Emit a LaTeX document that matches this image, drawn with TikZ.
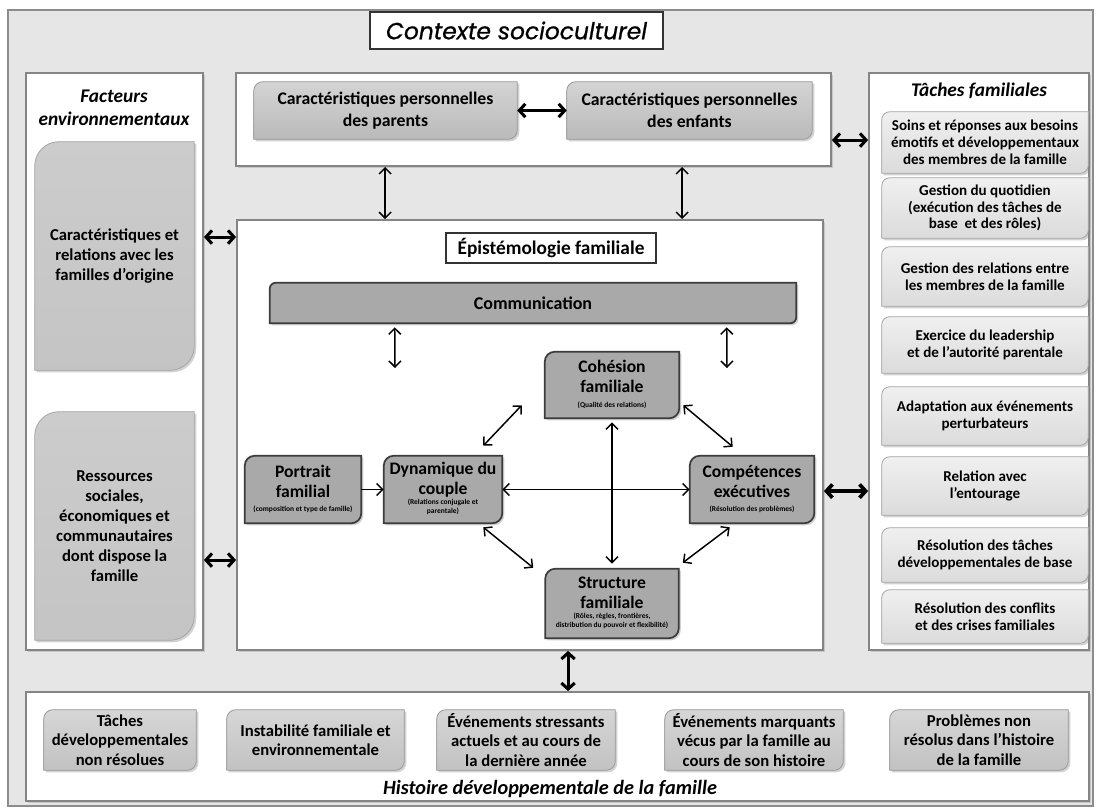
\documentclass[tikz,border=0pt]{standalone}
\usepackage{fontspec}
\setmainfont{Carlito}
\newfontfamily\titlefont[FakeBold=0.8]{Poppins}
\usetikzlibrary{arrows.meta,calc,shadows}
\pgfdeclarelayer{back}
\pgfdeclarelayer{mid}
\pgfsetlayers{back,mid,main}
\definecolor{bgc}{HTML}{E6E6E6}
\definecolor{bord}{HTML}{858585}
\definecolor{cgray}{HTML}{A9A9A9}
\definecolor{cdark}{HTML}{3C3C3C}
\newcommand\rdiag[3]{%
  \path[#1] ($(#2.north west)+(0,#3)$) .. controls ($(#2.north west)+(0,#3*0.45)$) and ($(#2.north west)+(#3*0.45,0)$) .. ($(#2.north west)+(#3,0)$) -- (#2.north east) -- ($(#2.south east)+(0,-#3)$) .. controls ($(#2.south east)+(0,-#3*0.45)$) and ($(#2.south east)+(-#3*0.45,0)$) .. ($(#2.south east)+(-#3,0)$) -- (#2.south west) -- cycle;}
\newcommand\smalltxt[1]{{\fontsize{5.6}{6.6}\selectfont\begin{tabular}{@{}c@{}}#1\end{tabular}}}
\begin{document}
\begin{tikzpicture}[x=0.75pt,y=-0.75pt,
  sz/.style 2 args={minimum width=#1*0.75pt, minimum height=#2*0.75pt, inner sep=0pt},
  big/.style={draw=bord, line width=1.4pt, fill=white, drop shadow={opacity=0.3,shadow xshift=1.2pt,shadow yshift=-1.2pt}},
  txt/.style={align=center, font=\bfseries},
  ctxt/.style={align=center, font=\bfseries\fontsize{13.2}{15}\selectfont},
  ttl/.style={align=center, font=\bfseries\itshape\fontsize{14.5}{17.5}\selectfont},
  shd/.style={drop shadow={opacity=0.35,shadow xshift=1.5pt,shadow yshift=-1.5pt}},
  cshape/.style={shd, fill=cgray, draw=cdark, line width=1.3pt},
  pshape/.style={shd, top color=black!17, bottom color=black!27, draw=black!40, line width=0.6pt},
  lshape/.style={shd, top color=black!20, bottom color=black!23, draw=black!35, line width=0.6pt},
  rshape/.style={shd, top color=black!6, bottom color=black!14, draw=black!35, line width=0.6pt},
  bshape/.style={shd, top color=black!16, bottom color=black!24, draw=black!40, line width=0.6pt},
  arr/.style={{Straight Barb[length=4.5pt,width=9pt]}-{Straight Barb[length=4.5pt,width=9pt]}, line width=1.1pt},
  tarr/.style={{Straight Barb[length=4.5pt,width=10pt]}-{Straight Barb[length=4.5pt,width=10pt]}, line width=2.3pt},
  oarr/.style={-{Straight Barb[length=4.5pt,width=9pt]}, line width=1.1pt}]
\useasboundingbox (0,0) rectangle (1097,811);

% ---------- frames ----------
\begin{pgfonlayer}{back}
\node[sz={1085}{796}, fill=bgc, draw=black!45, line width=1.6pt] (frame) at (550.5,408) {};
\node[sz={177}{577}, big] (leftcol) at (114.5,361.5) {};
\node[sz={595}{93}, big] (topbox) at (533.5,119.5) {};
\node[sz={220}{577}, big] (rightcol) at (979,361.5) {};
\node[sz={586}{430}, big] (epbox) at (530,435) {};
\node[sz={1063}{109}, big] (botbox) at (557.5,746.5) {};
\end{pgfonlayer}

% ---------- titles ----------
\node[sz={293}{37}, draw=black!80, line width=0.8pt, fill=white] (ctx) at (516.5,30.5)
  {\titlefont\itshape\fontsize{17.5}{20}\selectfont Contexte socioculturel};
\node[ttl] (facteurs) at (114,108) {Facteurs\\environnementaux};
\node[ttl] (taches) at (979,91) {Tâches familiales};
\node[ttl, font=\bfseries\itshape\fontsize{15.2}{18}\selectfont] (histoire) at (550,789) {Histoire développementale de la famille};
\node[sz={210}{30}, draw=black!80, line width=0.8pt, fill=white, font=\bfseries\fontsize{14.5}{17}\selectfont] (epist) at (551,248) {Épistémologie familiale};

% ---------- top box ----------
\node[sz={263}{57}, txt, font=\bfseries\fontsize{13.3}{16.5}\selectfont] (parent) at (385.5,110.5) {Caractéristiques personnelles\\des parents};
\node[sz={245}{57}, txt, font=\bfseries\fontsize{13.3}{16.5}\selectfont] (enfant) at (689.5,110.5) {Caractéristiques personnelles\\des enfants};

% ---------- left column ----------
\node[sz={159}{228}, txt, font=\bfseries\fontsize{12.5}{15}\selectfont] (lc1) at (114.5,256) {Caractéristiques et\\relations avec les\\familles d’origine};
\node[sz={159}{228}, txt, font=\bfseries\fontsize{12.5}{15}\selectfont] (lc2) at (114.5,526) {Ressources\\sociales,\\économiques et\\communautaires\\dont dispose la\\famille};

% ---------- right column ----------
\begin{scope}[every node/.style={txt, font=\bfseries\fontsize{11.3}{12.6}\selectfont}]
\node[sz={206}{61}] (rc1) at (985,142.5) {Soins et réponses aux besoins\\émotifs et développementaux\\des membres de la famille};
\node[sz={206}{60}] (rc2) at (985,208) {Gestion du quotidien\\(exécution des tâches de\\base~ et des rôles)};
\node[sz={206}{59}] (rc3) at (985,276.5) {Gestion des relations entre\\les membres de la famille};
\node[sz={206}{56}] (rc4) at (985,345) {Exercice du leadership\\et de l’autorité parentale};
\node[sz={206}{58}] (rc5) at (985,416) {Adaptation aux événements\\perturbateurs};
\node[sz={206}{58}] (rc6) at (985,486) {Relation avec\\l’entourage};
\node[sz={206}{54}] (rc7) at (985,555) {Résolution des tâches\\développementales de base};
\node[sz={206}{53}] (rc8) at (985,616.5) {Résolution des conflits\\et des crises familiales};
\end{scope}

% ---------- bottom ----------
\begin{scope}[every node/.style={txt, font=\bfseries\fontsize{12.5}{14.5}\selectfont}]
\node[sz={152}{60}] (b1) at (120,740) {Tâches\\développementales\\non résolues};
\node[sz={177}{60}] (b2) at (315.5,740) {Instabilité familiale et\\environnementale};
\node[sz={178}{60}] (b3) at (526,740) {Événements stressants\\actuels et au cours de\\la dernière année};
\node[sz={178}{60}] (b4) at (754,740) {Événements marquants\\vécus par la famille au\\cours de son histoire};
\node[sz={178}{60}] (b5) at (979,740) {Problèmes non\\résolus dans l’histoire\\de la famille};
\end{scope}

% ---------- centre ----------
\node[sz={526}{40}, txt, font=\bfseries\fontsize{13.5}{16}\selectfont] (comm) at (533,303) {Communication};
\node[sz={116}{67}, ctxt] (portrait) at (303,489.5) {Portrait\\familial\\[-4pt]\smalltxt{(composition et type de famille)}};
\node[sz={118}{67}, ctxt] (dyn) at (443,489.5) {Dynamique du\\couple\\[-4pt]\smalltxt{(Relations conjugale et\\parentale)}};
\node[sz={134}{66}, ctxt] (coh) at (612,385) {Cohésion\\familiale\\[-4pt]\smalltxt{(Qualité des relations)}};
\node[sz={124}{67}, ctxt] (comp) at (752,489.5) {Compétences\\exécutives\\[-4pt]\smalltxt{(Résolution des problèmes)}};
\node[sz={133}{69}, ctxt] (struct) at (612,603.5) {Structure\\familiale\\[-4pt]\smalltxt{(Rôles, règles, frontières,\\distribution du pouvoir et flexibilité)}};

% ---------- shapes ----------
\begin{pgfonlayer}{mid}
\rdiag{pshape}{parent}{9}
\rdiag{pshape}{enfant}{9}
\rdiag{lshape}{lc1}{24}
\rdiag{lshape}{lc2}{24}
\rdiag{rshape}{rc1}{8}
\rdiag{rshape}{rc2}{8}
\rdiag{rshape}{rc3}{8}
\rdiag{rshape}{rc4}{8}
\rdiag{rshape}{rc5}{8}
\rdiag{rshape}{rc6}{8}
\rdiag{rshape}{rc7}{8}
\rdiag{rshape}{rc8}{8}
\rdiag{bshape}{b1}{9}
\rdiag{bshape}{b2}{9}
\rdiag{bshape}{b3}{9}
\rdiag{bshape}{b4}{9}
\rdiag{bshape}{b5}{9}
\rdiag{cshape}{comm}{6}
\rdiag{cshape}{portrait}{10}
\rdiag{cshape}{dyn}{10}
\rdiag{cshape}{coh}{10}
\rdiag{cshape}{comp}{10}
\rdiag{cshape}{struct}{10}
\end{pgfonlayer}

% ---------- connectors ----------
\draw[tarr] (parent.east) -- (enfant.west);
\draw[tarr] ($(topbox.north east)+(0,68)$) -- ($(rightcol.north west)+(0,68)$);
\draw[tarr] ($(leftcol.north east)+(0,165)$) -- ($(epbox.north west)+(0,18)$);
\draw[tarr] ($(leftcol.north east)+(0,488)$) -- ($(epbox.north west)+(0,341)$);
\draw[tarr, line width=2.8pt] ($(epbox.north east)+(0,272)$) -- ($(rightcol.north west)+(0,419)$);
\draw[arr] ($(topbox.south west)+(150,0)$) -- ($(epbox.north west)+(149,0)$);
\draw[arr] ($(topbox.south west)+(447,0)$) -- ($(epbox.north west)+(446,0)$);
\draw[tarr] ($(epbox.south west)+(332,0)$) -- ($(botbox.north west)+(543,0)$);

\coordinate (ca1) at (395,368);
\coordinate (ca2) at (727,368);
\draw[arr] ($(comm.south west)+(125,4)$) -- (ca1);
\draw[arr] ($(comm.south west)+(457,4)$) -- (ca2);

\draw[oarr] (portrait.east) -- (dyn.west);
\draw[arr] (dyn.east) -- (comp.west);
\draw[arr] ($(coh.south)+(0,4)$) -- ($(struct.north)+(0,-5)$);
\draw[arr] ($(dyn.north east)+(-19,-10)$) -- ($(coh.south west)+(-23,-13)$);
\draw[arr] ($(coh.south east)+(4,-13)$) -- ($(comp.north west)+(43,-9)$);
\draw[arr] ($(dyn.south east)+(-19,4)$) -- ($(struct.north west)+(-12,-1)$);
\draw[arr] ($(comp.south west)+(40,4)$) -- ($(struct.north east)+(4,-6)$);
\end{tikzpicture}
\end{document}
